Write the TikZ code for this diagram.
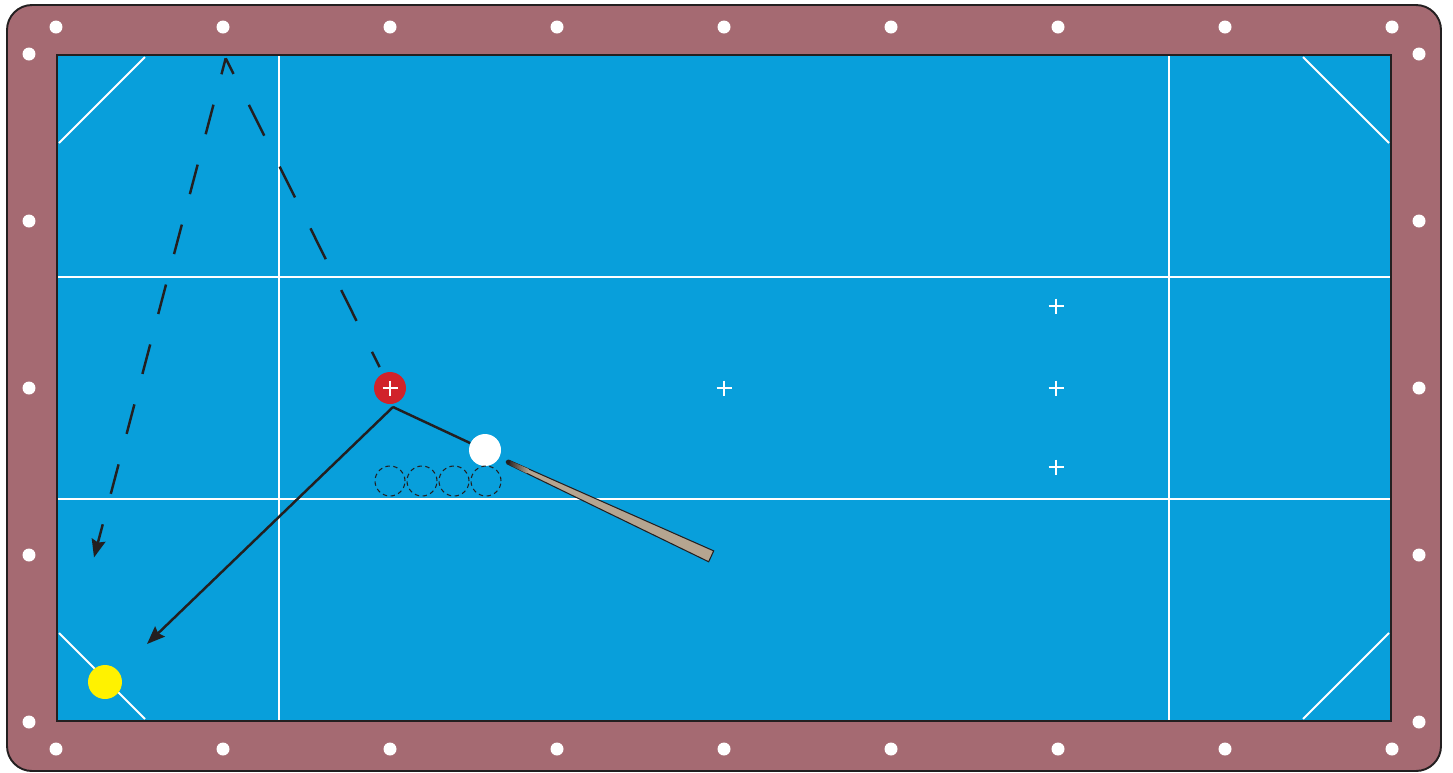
\documentclass[tikz,border=0pt]{standalone}
\usepackage{tikz}
\usetikzlibrary{arrows.meta}
\definecolor{bande}{RGB}{165,106,114}
\definecolor{tapis}{RGB}{8,159,219}
\definecolor{rouge}{RGB}{209,35,42}
\definecolor{jaune}{RGB}{255,242,0}
\definecolor{queue}{RGB}{181,165,144}
\definecolor{trait}{RGB}{35,31,32}

\begin{document}
\begin{tikzpicture}[x=0.02cm, y=-0.02cm,
	ligne/.style={white, line width=1.1pt},
	croix/.style={white, line width=0.7pt},
	bille/.style={circle, minimum size=0.64cm, inner sep=0pt},
	fantome/.style={circle, minimum size=0.6cm, inner sep=0pt, draw=trait, line width=0.6pt, dash pattern=on 2.5pt off 2pt},
	trajet/.style={trait, line width=1.4pt},
	pointe/.style={-{Stealth[length=0.36cm, width=0.28cm, inset=0.05cm]}}]
	\useasboundingbox (0,0) rectangle (1453,772);
	%le billard
	\filldraw[fill=bande, draw=trait, line width=1.1pt, rounded corners=0.5cm] (7,5) rectangle (1441,771);
	\filldraw[fill=tapis, draw=trait, line width=1.1pt] (57,55) rectangle (1391,721);
	%les mouches
	\foreach \x in {56,223,...,1392} {
		\fill[white] (\x,27) circle (0.13cm);
		\fill[white] (\x,749) circle (0.13cm);
	}
	\foreach \y in {54,221,...,722} {
		\fill[white] (29,\y) circle (0.13cm);
		\fill[white] (1419,\y) circle (0.13cm);
	}
	%les lignes du tapis
	\draw[ligne] (279,56) -- (279,720);
	\draw[ligne] (1169,56) -- (1169,720);
	\draw[ligne] (58,277) -- (1390,277);
	\draw[ligne] (58,499) -- (1390,499);
	\draw[ligne] (59,143) -- (145,57);
	\draw[ligne] (1303,57) -- (1389,143);
	\draw[ligne] (59,633) -- (145,719);
	\draw[ligne] (1303,719) -- (1389,633);
	%les billes
	\node[bille, fill=rouge] (rouge) at (390,388) {};
	\node[bille, fill=white] (blanche) at (485,450) {};
	\node[bille, fill=jaune, minimum size=0.68cm] (jaune) at (105,682) {};
	\foreach \x in {390,422,454,486}
		\node[fantome] (f\x) at (\x,481) {};
	\foreach \x/\y in {724/388, 1056/306, 1056/388, 1056/467, 390/388}
		\draw[croix] (\x,\y) ++(-7.5,0) -- ++(15,0) (\x,\y) ++(0,-7.5) -- ++(0,15);
	%les trajets
	\coordinate (contact) at (393,407);
	\coordinate (arrivee) at (147,644);
	\coordinate (bande1) at (225.7,58.3);
	\coordinate (fin) at (94,557.5);
	\draw[trajet] (blanche) -- (contact);
	\draw[trajet, pointe] (contact) -- (arrivee);
	\draw[trajet, dash pattern=on 0.69cm off 0.69cm, dash phase=0.34cm, shorten >=4pt] (bande1) -- (rouge);
	\draw[trajet, dash pattern=on 0.61cm off 0.63cm, dash phase=0.28cm, pointe] (bande1) -- (fin);
	%la queue
	\begin{scope}[shift={(508,462)}, rotate=-24.9]
		\filldraw[fill=queue, draw=trait, line width=0.6pt] (0,-2) -- (224,-6) -- (224,6) -- (0,2) -- cycle;
		\shade[left color=trait, right color=queue] (0,-2) -- (22,-2.4) -- (22,2.4) -- (0,2) -- cycle;
		\fill[trait] (0,0) circle (0.045cm);
	\end{scope}
\end{tikzpicture}
\end{document}
